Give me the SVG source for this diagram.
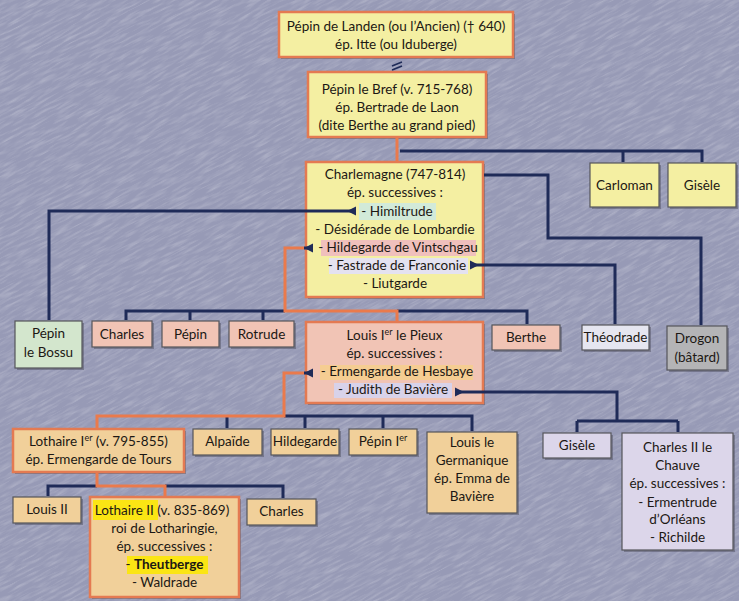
<svg xmlns="http://www.w3.org/2000/svg" width="739" height="601" viewBox="0 0 739 601">
<style>
.t{font-family:Lato,"Open Sans","Liberation Sans",sans-serif;font-size:13.5px;fill:#1c1814;text-anchor:middle}
.b{font-weight:bold}
.box{stroke:#55555a;stroke-width:1.2}
.ob{stroke:#e47a52;stroke-width:2.5}
.yel{fill:#f4efa2}.pink{fill:#f1c4b5}.grn{fill:#d3e6cd}.pale{fill:#e6e6f0}.gray{fill:#b4b4b6}.tan{fill:#f1d09a}.lav{fill:#dcd6ea}
.sh{fill:#4a4a58;opacity:0.45}
.nv{fill:none;stroke:#1f2b58;stroke-width:3;stroke-linejoin:miter}
.or{fill:none;stroke:#ea7a4c;stroke-width:3;stroke-linejoin:miter}
</style>
<defs>
<filter id="grain" x="0" y="0" width="1" height="1">
<feTurbulence type="fractalNoise" baseFrequency="0.05 0.4" numOctaves="3" seed="7"/>
<feColorMatrix type="matrix" values="0 0 0 0 1  0 0 0 0 1  0 0 0 0 1  1.3 0 0 0 -0.55"/>
</filter>
<marker id="tri" markerUnits="userSpaceOnUse" markerWidth="10" markerHeight="10" refX="0" refY="5" orient="auto" viewBox="0 0 10 10">
<path d="M0,0.5 L9,5 L0,9.5 z" fill="#1f2b58"/>
</marker>
</defs>
<rect x="0" y="0" width="739" height="601" fill="#979ab6"/>
<rect x="-400" y="-400" width="1600" height="1400" filter="url(#grain)" opacity="0.4" transform="rotate(-28 370 300)"/>

<g id="n-pepin-landen">
<rect class="sh" x="281" y="14" width="234" height="45"/>
<rect class="yel ob" x="279" y="12" width="234" height="45"/>
<text class="t" x="396" y="31">Pépin de Landen (ou l’Ancien) († 640)</text>
<text class="t" x="396" y="49">ép. Itte (ou Iduberge)</text>
</g>

<g id="n-pepin-bref">
<rect class="sh" x="310" y="74" width="178" height="65"/>
<rect class="yel ob" x="308" y="72" width="178" height="65"/>
<text class="t" x="397" y="94">Pépin le Bref (v. 715-768)</text>
<text class="t" x="397" y="112">ép. Bertrade de Laon</text>
<text class="t" x="397" y="130">(dite Berthe au grand pied)</text>
</g>

<g id="n-charlemagne">
<rect class="sh" x="308" y="164" width="177" height="135"/>
<rect class="yel ob" x="306" y="162" width="177" height="135"/>
<rect x="359" y="203" width="77" height="17" fill="#d2ead9"/>
<rect x="321" y="240" width="155" height="16" fill="#f0c0bc"/>
<rect x="329" y="258" width="139" height="16" fill="#e4e2f0"/>
<text class="t" x="395" y="179">Charlemagne (747-814)</text>
<text class="t" x="395" y="197">ép. successives :</text>
<text class="t" x="397" y="216">- Himiltrude</text>
<text class="t" x="395" y="234">- Désidérade de Lombardie</text>
<text class="t" x="398" y="252">- Hildegarde de Vintschgau</text>
<text class="t" x="397" y="270">- Fastrade de Franconie</text>
<text class="t" x="395" y="288">- Liutgarde</text>
</g>

<g id="n-carloman">
<rect class="sh" x="592" y="165" width="69" height="44"/>
<rect class="yel box" x="590" y="163" width="69" height="44"/>
<text class="t" x="624.5" y="190">Carloman</text>
</g>
<g id="n-gisele1">
<rect class="sh" x="670" y="165" width="68" height="44"/>
<rect class="yel box" x="668" y="163" width="68" height="44"/>
<text class="t" x="702" y="190">Gisèle</text>
</g>

<g id="n-pepin-bossu">
<rect class="sh" x="17" y="323" width="67" height="47"/>
<rect class="grn box" x="15" y="321" width="67" height="47"/>
<text class="t" x="48.5" y="338">Pépin</text>
<text class="t" x="48.5" y="357">le Bossu</text>
</g>
<g id="n-charles1">
<rect class="sh" x="94" y="323" width="60" height="26"/>
<rect class="pink box" x="92" y="321" width="60" height="26"/>
<text class="t" x="122" y="339">Charles</text>
</g>
<g id="n-pepin2">
<rect class="sh" x="164" y="323" width="57" height="26"/>
<rect class="pink box" x="162" y="321" width="57" height="26"/>
<text class="t" x="190.5" y="339">Pépin</text>
</g>
<g id="n-rotrude">
<rect class="sh" x="231" y="323" width="65" height="26"/>
<rect class="pink box" x="229" y="321" width="65" height="26"/>
<text class="t" x="261.5" y="339">Rotrude</text>
</g>

<g id="n-louis-pieux">
<rect class="sh" x="308" y="324" width="177" height="81"/>
<rect class="pink ob" x="306" y="322" width="177" height="81"/>
<rect x="320" y="365" width="153" height="15" fill="#f5cd92"/>
<rect x="334" y="383" width="118" height="15" fill="#d8d2ea"/>
<text class="t" x="394.5" y="340">Louis I<tspan font-size="9" dy="-5">er</tspan><tspan dy="5"> le Pieux</tspan></text>
<text class="t" x="394.5" y="358">ép. successives :</text>
<text class="t" x="397" y="376">- Ermengarde de Hesbaye</text>
<text class="t" x="393" y="394">- Judith de Bavière</text>
</g>

<g id="n-berthe">
<rect class="sh" x="494" y="327" width="68" height="25"/>
<rect class="pink box" x="492" y="325" width="68" height="25"/>
<text class="t" x="526" y="342">Berthe</text>
</g>
<g id="n-theodrade">
<rect class="sh" x="584" y="327" width="67" height="25"/>
<rect class="pale box" x="582" y="325" width="67" height="25"/>
<text class="t" x="615.5" y="342">Théodrade</text>
</g>
<g id="n-drogon">
<rect class="sh" x="669" y="328" width="60" height="44"/>
<rect class="gray box" x="667" y="326" width="60" height="44"/>
<text class="t" x="697" y="343">Drogon</text>
<text class="t" x="697" y="362">(bâtard)</text>
</g>

<g id="n-lothaire1">
<rect class="sh" x="15" y="431" width="171" height="43"/>
<rect class="tan ob" x="13" y="429" width="171" height="43"/>
<text class="t" x="98.5" y="446">Lothaire I<tspan font-size="9" dy="-5">er</tspan><tspan dy="5"> (v. 795-855)</tspan></text>
<text class="t" x="98.5" y="464">ép. Ermengarde de Tours</text>
</g>
<g id="n-alpaide">
<rect class="sh" x="195" y="431" width="69" height="26"/>
<rect class="tan box" x="193" y="429" width="69" height="26"/>
<text class="t" x="227.5" y="446">Alpaïde</text>
</g>
<g id="n-hildegarde2">
<rect class="sh" x="273" y="431" width="68" height="26"/>
<rect class="tan box" x="271" y="429" width="68" height="26"/>
<text class="t" x="305" y="446">Hildegarde</text>
</g>
<g id="n-pepin-ier">
<rect class="sh" x="351" y="431" width="68" height="26"/>
<rect class="tan box" x="349" y="429" width="68" height="26"/>
<text class="t" x="383" y="446">Pépin I<tspan font-size="9" dy="-5">er</tspan></text>
</g>
<g id="n-louis-germanique">
<rect class="sh" x="429" y="434" width="90" height="81"/>
<rect class="tan box" x="427" y="432" width="90" height="81"/>
<text class="t" x="472" y="447">Louis le</text>
<text class="t" x="472" y="465">Germanique</text>
<text class="t" x="472" y="483">ép. Emma de</text>
<text class="t" x="472" y="501">Bavière</text>
</g>

<g id="n-gisele2">
<rect class="sh" x="545" y="435" width="68" height="25"/>
<rect class="lav box" x="543" y="433" width="68" height="25"/>
<text class="t" x="577" y="450">Gisèle</text>
</g>
<g id="n-charles-chauve">
<rect class="sh" x="624" y="435" width="111" height="117"/>
<rect class="lav box" x="622" y="433" width="111" height="117"/>
<text class="t" x="677.5" y="452">Charles II le</text>
<text class="t" x="677.5" y="470">Chauve</text>
<text class="t" x="677.5" y="488">ép. successives :</text>
<text class="t" x="677.5" y="507">- Ermentrude</text>
<text class="t" x="677.5" y="524">d’Orléans</text>
<text class="t" x="677.5" y="542">- Richilde</text>
</g>

<g id="n-louis2">
<rect class="sh" x="15" y="499" width="68" height="26"/>
<rect class="tan box" x="13" y="497" width="68" height="26"/>
<text class="t" x="47" y="514">Louis II</text>
</g>
<g id="n-lothaire2">
<rect class="sh" x="92" y="499" width="149" height="100"/>
<rect class="tan ob" x="90" y="497" width="149" height="100"/>
<rect x="93" y="500" width="65" height="20" fill="#fbe514"/>
<rect x="127" y="556" width="81" height="18" fill="#fbe514"/>
<text class="t" x="162" y="515">Lothaire II (v. 835-869)</text>
<text class="t" x="164.5" y="533">roi de Lotharingie,</text>
<text class="t" x="164.5" y="551">ép. successives :</text>
<text class="t" x="164.5" y="569">- <tspan class="b">Theutberge</tspan></text>
<text class="t" x="164.5" y="587">- Waldrade</text>
</g>
<g id="n-charles3">
<rect class="sh" x="249" y="501" width="69" height="26"/>
<rect class="tan box" x="247" y="499" width="69" height="26"/>
<text class="t" x="281.5" y="516">Charles</text>
</g>

<g id="connectors">
<path class="or" d="M397,138 V161"/>
<path d="M392,66 L402,62 M392,70 L402,66" stroke="#1f2b58" stroke-width="1.6" fill="none"/>
<path class="nv" d="M400,151 H702 V162 M623,151 V162"/>
<path class="nv" d="M484,175 H548 V238 H701 V325"/>
<path class="nv" d="M356,211 H49 V320" marker-start="url(#tri)"/>
<path class="nv" d="M470,265 H615 V324" marker-start="url(#tri)"/>
<path class="nv" d="M285,311 H126 V320 M190,311 V320 M263,311 V320"/>
<path class="nv" d="M397,311 H527 V324"/>
<path class="or" d="M304,248 H285 V311 H397 V321"/>
<path d="M313,248 H304" stroke="#1f2b58" stroke-width="3" marker-start="url(#tri)"/>
<path class="nv" d="M284,416 H472 V431 M227,416 V428 M305,416 V428 M383,416 V428"/>
<path class="or" d="M304,373 H284 V416 H97 V428"/>
<path d="M313,373 H304" stroke="#1f2b58" stroke-width="3" marker-start="url(#tri)"/>
<path class="nv" d="M97,486 H48 V496 M165,486 H283 V498"/>
<path class="or" d="M97,473 V486 H165 V496"/>
<path class="nv" d="M455,392 H617 V421 M577,421 H678 M577,421 V432 M678,421 V432" marker-start="url(#tri)"/>
</g>
</svg>
